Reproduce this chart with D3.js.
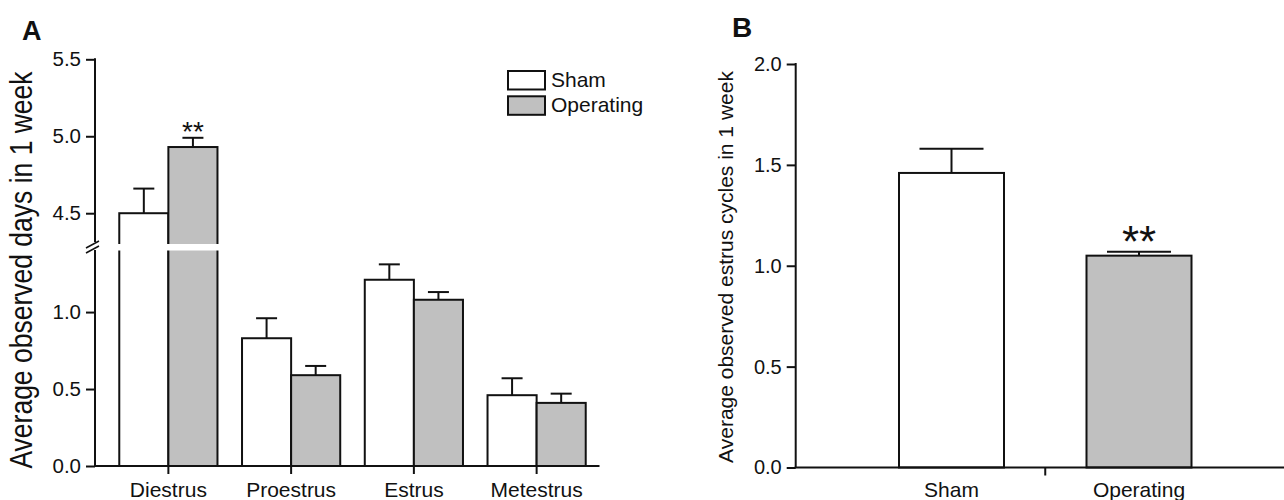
<!DOCTYPE html>
<html>
<head>
<meta charset="utf-8">
<script src="https://cdn.jsdelivr.net/npm/d3@7"></script>
<style>
  body { margin: 0; background: #fff; }
  text { font-family: "Liberation Sans", Arial, sans-serif; fill: #111; }
</style>
</head>
<body>
<div id="chart"></div>
<script>
// Panel A - days per stage, Panel B - cycles per week

const categories = ["Diestrus", "Proestrus", "Estrus", "Metestrus"];
const groups = ["Sham", "Operating"];
const shamMean = [4.50, 0.83, 1.21, 0.46];
const shamSem  = [0.16, 0.13, 0.10, 0.11];
const opMean   = [4.93, 0.59, 1.08, 0.41];
const opSem    = [0.06, 0.06, 0.05, 0.06];
const lowerTicks = [0.0, 0.5, 1.0];
const upperTicks = [4.5, 5.0, 5.5];

const cyclesMean = [1.46, 1.05];
const cyclesSem  = [0.12, 0.02];
const ticksB = [0.0, 0.5, 1.0, 1.5, 2.0];
const starsB = ["", "**"];

const width = 1284, height = 500;
const fill = { Sham: "#ffffff", Operating: "#c0c0c0" };
const fmt = d3.format(".1f");

const svg = d3.select("#chart").append("svg")
  .attr("width", width)
  .attr("height", height);

// ---------------- Panel A ----------------
const axA = 95, baseA = 466;
const yLower = d3.scaleLinear().domain([0, 1.4]).range([baseA, 250.5]);
const yUpper = d3.scaleLinear().domain([4.3, 5.5]).range([244, 59.3]);
const yA = v => v > 1.4 ? yUpper(v) : yLower(v);

const x0 = d3.scaleBand().domain(categories).range([107, 598])
  .paddingInner(0.2).paddingOuter(0.1);
const x1 = d3.scaleBand().domain(groups).range([0, x0.bandwidth()]);

const dataA = [];
categories.forEach((c, i) => {
  dataA.push({ cat: c, grp: "Sham", mean: shamMean[i], sem: shamSem[i] });
  dataA.push({ cat: c, grp: "Operating", mean: opMean[i], sem: opSem[i] });
});

const gA = svg.append("g");

gA.selectAll("rect.bar")
  .data(dataA)
  .join("rect")
  .attr("class", "bar")
  .attr("x", d => x0(d.cat) + x1(d.grp))
  .attr("y", d => yA(d.mean))
  .attr("width", x1.bandwidth())
  .attr("height", d => baseA - yA(d.mean))
  .attr("fill", d => fill[d.grp])
  .attr("stroke", "#111")
  .attr("stroke-width", 2);

// white gap where the axis is broken
gA.append("rect")
  .attr("x", x0("Diestrus") - 3)
  .attr("y", yUpper(4.3))
  .attr("width", x0.bandwidth() + 6)
  .attr("height", yLower(1.4) - yUpper(4.3))
  .attr("fill", "#fff");

// error bars
const capA = 21;
const errA = gA.selectAll("g.err").data(dataA).join("g").attr("class", "err");
errA.append("line")
  .attr("x1", d => x0(d.cat) + x1(d.grp) + x1.bandwidth() / 2)
  .attr("x2", d => x0(d.cat) + x1(d.grp) + x1.bandwidth() / 2)
  .attr("y1", d => yA(d.mean))
  .attr("y2", d => yA(d.mean + d.sem))
  .attr("stroke", "#111").attr("stroke-width", 2);
errA.append("line")
  .attr("x1", d => x0(d.cat) + x1(d.grp) + x1.bandwidth() / 2 - capA / 2)
  .attr("x2", d => x0(d.cat) + x1(d.grp) + x1.bandwidth() / 2 + capA / 2)
  .attr("y1", d => yA(d.mean + d.sem))
  .attr("y2", d => yA(d.mean + d.sem))
  .attr("stroke", "#111").attr("stroke-width", 2);

// significance
gA.append("text")
  .attr("x", x0("Diestrus") + x1("Operating") + x1.bandwidth() / 2)
  .attr("y", yUpper(opMean[0] + opSem[0]) + 3)
  .attr("text-anchor", "middle")
  .attr("font-size", "28px")
  .text("**");

// y axes (two segments)
const upperAxis = gA.append("g")
  .attr("transform", `translate(${axA},0)`)
  .call(d3.axisLeft(yUpper).tickValues(upperTicks).tickFormat(fmt).tickSize(9).tickSizeOuter(0).tickPadding(5));
upperAxis.select(".domain").remove();
const lowerAxis = gA.append("g")
  .attr("transform", `translate(${axA},0)`)
  .call(d3.axisLeft(yLower).tickValues(lowerTicks).tickFormat(fmt).tickSize(9).tickSizeOuter(0).tickPadding(5));
lowerAxis.select(".domain").remove();
[upperAxis, lowerAxis].forEach(a => {
  a.selectAll("line").attr("stroke", "#111").attr("stroke-width", 2);
  a.selectAll("text").attr("font-size", "20.5px").attr("fill", "#111");
});

gA.append("line").attr("x1", axA).attr("x2", axA)
  .attr("y1", yUpper(5.5) - 1).attr("y2", 242)
  .attr("stroke", "#111").attr("stroke-width", 2);
gA.append("line").attr("x1", axA).attr("x2", axA)
  .attr("y1", 250).attr("y2", baseA + 1)
  .attr("stroke", "#111").attr("stroke-width", 2);
// break marks
[[86, 248, 99, 241], [86, 253, 99, 246]].forEach(s => {
  gA.append("line")
    .attr("x1", s[0]).attr("y1", s[1]).attr("x2", s[2]).attr("y2", s[3])
    .attr("stroke", "#111").attr("stroke-width", 1.5);
});

// x axis
const xAxisA = gA.append("g")
  .attr("transform", `translate(0,${baseA})`)
  .call(d3.axisBottom(x0).tickSize(8).tickSizeOuter(0));
xAxisA.select(".domain").remove();
xAxisA.selectAll("line").attr("stroke", "#111").attr("stroke-width", 2);
xAxisA.selectAll("text").attr("font-size", "21px").attr("fill", "#111")
  .attr("y", 30.5).attr("dy", null);
gA.append("line").attr("x1", axA - 1).attr("x2", 599.5)
  .attr("y1", baseA).attr("y2", baseA)
  .attr("stroke", "#111").attr("stroke-width", 2);

// y label
gA.append("text")
  .attr("transform", "translate(32,270) rotate(-90) scale(1,1.2)")
  .attr("text-anchor", "middle")
  .attr("font-size", "26.5px")
  .text("Average observed days in 1 week");

// panel letter
gA.append("text").attr("x", 22).attr("y", 40)
  .attr("font-size", "27px").attr("font-weight", "bold").text("A");

// legend
const legend = gA.selectAll("g.legend").data(groups).join("g")
  .attr("class", "legend")
  .attr("transform", (d, i) => `translate(508,${71 + i * 25.3})`);
legend.append("rect")
  .attr("width", 37).attr("height", 18.5)
  .attr("fill", d => fill[d]).attr("stroke", "#111").attr("stroke-width", 2);
legend.append("text")
  .attr("x", 43).attr("y", 15.5)
  .attr("font-size", "21px")
  .text(d => d);

// ---------------- Panel B ----------------
const axB = 795.7, baseB = 467.5;
const yB = d3.scaleLinear().domain([0, 2]).range([baseB, 64]);
const xB = d3.scaleBand().domain(groups).range([857.75, 1232.75])
  .paddingInner(0.44).paddingOuter(0.22);

const dataB = groups.map((g, i) => ({ grp: g, mean: cyclesMean[i], sem: cyclesSem[i], star: starsB[i] }));
const gB = svg.append("g");

gB.selectAll("rect.bar")
  .data(dataB)
  .join("rect")
  .attr("class", "bar")
  .attr("x", d => xB(d.grp))
  .attr("y", d => yB(d.mean))
  .attr("width", xB.bandwidth())
  .attr("height", d => baseB - yB(d.mean))
  .attr("fill", d => fill[d.grp])
  .attr("stroke", "#111")
  .attr("stroke-width", 2);

const capB = 64;
const errB = gB.selectAll("g.err").data(dataB).join("g").attr("class", "err");
errB.append("line")
  .attr("x1", d => xB(d.grp) + xB.bandwidth() / 2)
  .attr("x2", d => xB(d.grp) + xB.bandwidth() / 2)
  .attr("y1", d => yB(d.mean))
  .attr("y2", d => yB(d.mean + d.sem))
  .attr("stroke", "#111").attr("stroke-width", 2);
errB.append("line")
  .attr("x1", d => xB(d.grp) + xB.bandwidth() / 2 - capB / 2)
  .attr("x2", d => xB(d.grp) + xB.bandwidth() / 2 + capB / 2)
  .attr("y1", d => yB(d.mean + d.sem))
  .attr("y2", d => yB(d.mean + d.sem))
  .attr("stroke", "#111").attr("stroke-width", 2);

gB.selectAll("text.star").data(dataB).join("text")
  .attr("class", "star")
  .attr("x", d => xB(d.grp) + xB.bandwidth() / 2)
  .attr("y", d => yB(d.mean + d.sem) + 5)
  .attr("text-anchor", "middle")
  .attr("font-family", "DejaVu Sans")
  .attr("font-size", "44px")
  .text(d => d.star);

const yAxisB = gB.append("g")
  .attr("transform", `translate(${axB},0)`)
  .call(d3.axisLeft(yB).tickValues(ticksB).tickFormat(fmt).tickSize(9).tickSizeOuter(0).tickPadding(5));
yAxisB.select(".domain").remove();
yAxisB.selectAll("line").attr("stroke", "#111").attr("stroke-width", 2);
yAxisB.selectAll("text").attr("font-size", "20px").attr("fill", "#111");
gB.append("line").attr("x1", axB).attr("x2", axB)
  .attr("y1", yB(2) - 1).attr("y2", baseB)
  .attr("stroke", "#111").attr("stroke-width", 2);

const xAxisB = gB.append("g")
  .attr("transform", `translate(0,${baseB})`)
  .call(d3.axisBottom(xB).tickSize(0).tickSizeOuter(0));
xAxisB.select(".domain").remove();
xAxisB.selectAll("text").attr("font-size", "21px").attr("fill", "#111")
  .attr("y", 29.5).attr("dy", null);
gB.append("line").attr("x1", axB - 1).attr("x2", 1284)
  .attr("y1", baseB).attr("y2", baseB)
  .attr("stroke", "#111").attr("stroke-width", 2);
// single tick between the two groups
const midB = (xB("Sham") + xB("Operating") + xB.bandwidth()) / 2;
gB.append("line").attr("x1", midB).attr("x2", midB)
  .attr("y1", baseB).attr("y2", baseB + 8)
  .attr("stroke", "#111").attr("stroke-width", 2);

gB.append("text")
  .attr("transform", "translate(733,267) rotate(-90)")
  .attr("text-anchor", "middle")
  .attr("font-size", "21px")
  .text("Average observed estrus cycles in 1 week");

gB.append("text").attr("x", 732).attr("y", 36.7)
  .attr("font-size", "28px").attr("font-weight", "bold").text("B");
</script>
</body>
</html>
